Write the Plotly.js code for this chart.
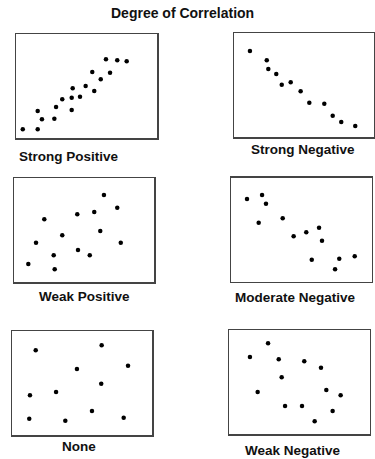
<!DOCTYPE html>
<html>
<head>
<meta charset="utf-8">
<script src="https://cdn.plot.ly/plotly-3.0.1.min.js"></script>
<style>
  html, body { margin: 0; padding: 0; background: #ffffff; }
  #chart { width: 375px; height: 459px; }
</style>
</head>
<body>
<div id="chart"></div>
<script>
// ---- Data (arbitrary 0-10 scale per panel) ----
const chartTitle = "Degree of Correlation";
const panelLabels = ["Strong Positive", "Strong Negative", "Weak Positive",
                     "Moderate Negative", "None", "Weak Negative"];

const strongPosX = [0.48, 1.54, 1.54, 1.84, 2.72, 2.84, 3.28, 3.95, 3.95, 4.02, 4.54, 4.94, 5.55, 5.41, 6.01, 6.38, 6.67, 7.18, 7.85];
const strongPosY = [0.84, 0.84, 2.60, 1.80, 1.86, 2.98, 3.72, 2.69, 3.88, 4.78, 3.97, 5.00, 4.52, 6.35, 5.64, 7.57, 6.28, 7.47, 7.38];

const strongNegX = [1.14, 2.34, 2.45, 3.02, 3.41, 4.05, 4.76, 5.38, 6.45, 7.05, 7.66, 8.66];
const strongNegY = [8.27, 7.38, 6.54, 6.06, 5.03, 5.26, 4.39, 3.30, 3.20, 2.05, 1.44, 1.06];

const weakPosX = [6.41, 7.36, 5.72, 4.51, 2.16, 6.15, 3.44, 1.57, 7.61, 4.56, 2.83, 5.40, 1.02, 2.90];
const weakPosY = [8.39, 7.17, 6.76, 6.54, 6.06, 4.93, 4.52, 3.81, 3.81, 3.11, 2.60, 2.60, 1.76, 1.25];

const modNegX = [1.12, 2.19, 2.47, 1.95, 3.66, 4.44, 5.34, 6.25, 6.46, 5.73, 7.69, 8.79, 7.39];
const modNegY = [7.95, 8.34, 7.50, 5.67, 6.10, 4.37, 4.75, 5.19, 3.94, 2.12, 2.21, 2.44, 1.19];

const noneX = [1.69, 6.39, 4.63, 8.27, 6.36, 1.28, 3.14, 1.23, 3.80, 5.70, 7.96];
const noneY = [8.14, 8.63, 6.35, 6.66, 4.93, 3.82, 4.13, 1.57, 1.38, 2.31, 1.66];

const weakNegX = [2.76, 1.47, 3.52, 5.34, 6.53, 3.73, 2.02, 6.91, 7.93, 3.97, 5.18, 7.36, 6.08];
const weakNegY = [8.72, 7.40, 7.18, 6.99, 6.38, 5.45, 4.04, 4.23, 3.72, 2.69, 2.69, 2.21, 1.22];

const axisRange = [0, 10];

// ---- Layout geometry (pixels in the 375x459 canvas) ----
const W = 375, H = 459;
// [left, right, top, bottom] of each panel box
const boxes = [
  [16, 157, 34, 138],
  [234, 374, 33, 137],
  [14, 154.3, 178.3, 282.3],
  [231.3, 371.7, 177.7, 281.7],
  [12, 152.3, 331, 435],
  [229.3, 369.7, 330, 434]
];
// label centres [x, y]
const labelPos = [
  [69, 156], [303, 150], [84, 296], [295.5, 297.5], [79, 446.5], [292.5, 450]
];

const seriesX = [strongPosX, strongNegX, weakPosX, modNegX, noneX, weakNegX];
const seriesY = [strongPosY, strongNegY, weakPosY, modNegY, noneY, weakNegY];

const traces = [];
const layout = {
  width: W, height: H,
  margin: {l: 0, r: 0, t: 0, b: 0},
  paper_bgcolor: "#ffffff",
  plot_bgcolor: "#ffffff",
  showlegend: false,
  annotations: []
};

const fontFam = "'Liberation Sans', Arial, sans-serif";

for (let i = 0; i < 6; i++) {
  const n = i === 0 ? "" : String(i + 1);
  traces.push({
    type: "scatter",
    mode: "markers",
    x: seriesX[i],
    y: seriesY[i],
    xaxis: "x" + n,
    yaxis: "y" + n,
    marker: {color: "#000000", size: 4.5},
    hoverinfo: "skip"
  });
  const b = boxes[i];
  const axCommon = {
    range: axisRange,
    showline: true, mirror: true,
    linecolor: "#444444", linewidth: 1.5,
    showgrid: false, zeroline: false,
    showticklabels: false, ticks: "",
    fixedrange: true
  };
  layout["xaxis" + n] = Object.assign({}, axCommon, {
    domain: [b[0] / W, b[1] / W],
    anchor: "y" + n
  });
  layout["yaxis" + n] = Object.assign({}, axCommon, {
    domain: [1 - b[3] / H, 1 - b[2] / H],
    anchor: "x" + n
  });
  layout.annotations.push({
    text: panelLabels[i],
    xref: "paper", yref: "paper",
    x: labelPos[i][0] / W, y: 1 - labelPos[i][1] / H,
    xanchor: "center", yanchor: "middle",
    showarrow: false,
    font: {family: fontFam, size: 13.5, color: "#111111", weight: "bold"}
  });
}

layout.annotations.push({
  text: chartTitle,
  xref: "paper", yref: "paper",
  x: 182.5 / W, y: 1 - 13 / H,
  xanchor: "center", yanchor: "middle",
  showarrow: false,
  font: {family: fontFam, size: 14, color: "#111111", weight: "bold"}
});

Plotly.newPlot("chart", traces, layout, {staticPlot: true, displayModeBar: false});
</script>
</body>
</html>
